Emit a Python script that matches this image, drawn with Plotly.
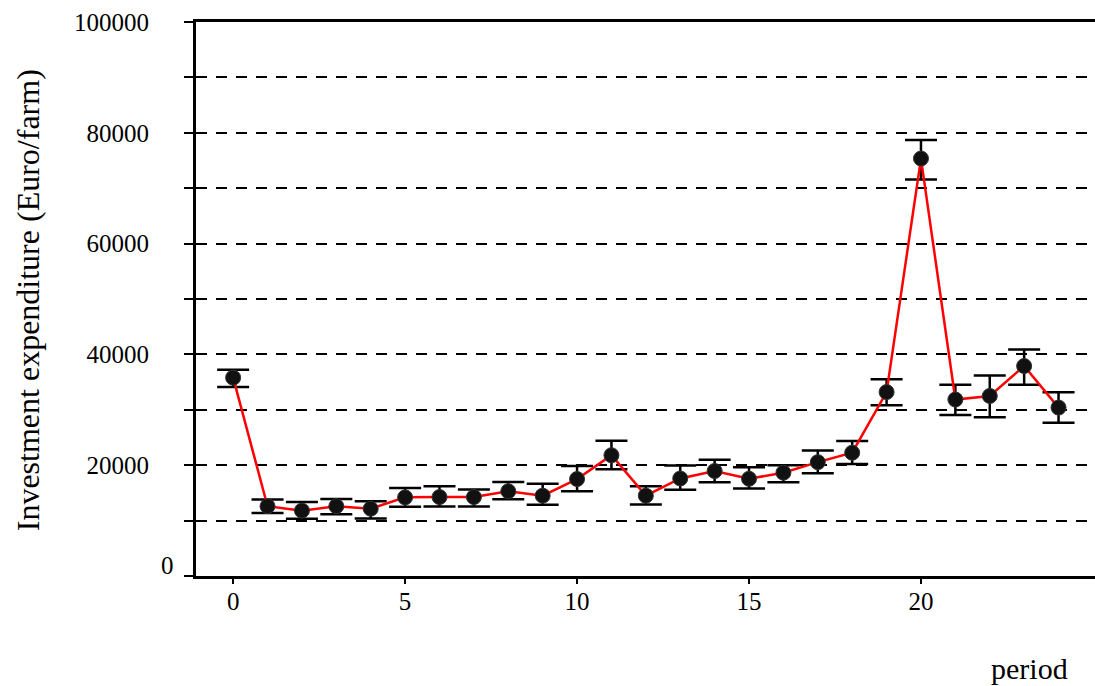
import plotly.graph_objects as go

periods = list(range(25))
investment = [35800, 12600, 11800, 12600, 12150, 14200, 14250, 14250, 15300, 14500,
              17500, 21800, 14500, 17600, 18950, 17550, 18650, 20550, 22250, 33200,
              75350, 31850, 32500, 37900, 30400]
error_plus = [1450, 1200, 1550, 1300, 1350, 1700, 1950, 1350, 1650, 2150,
              2350, 2600, 1700, 2350, 2050, 2100, 1350, 2100, 2100, 2300,
              3350, 2650, 3700, 3000, 2750]
error_minus = [1700, 1250, 1450, 1450, 1750, 1700, 1700, 1700, 1450, 1650,
               2200, 2550, 1600, 2050, 2050, 1750, 1750, 2000, 2050, 2400,
               3800, 2800, 3850, 3400, 2750]

y_tickvals = [0, 10000, 20000, 30000, 40000, 50000, 60000, 70000, 80000, 90000, 100000]
y_ticktext = ["", "", "20000", "", "40000", "", "60000", "", "80000", "", "100000"]
zero_label = "0"
x_tickvals = [0, 5, 10, 15, 20]

FONT = "Liberation Serif"

fig = go.Figure()
fig.add_trace(go.Scatter(
    x=periods, y=investment,
    mode="lines+markers",
    line=dict(color="red", width=2.5),
    marker=dict(symbol="circle", size=15, color="#111111",
                line=dict(color="#333333", width=1)),
    error_y=dict(type="data", symmetric=False, array=error_plus, arrayminus=error_minus,
                 color="black", thickness=2.5, width=16),
    showlegend=False,
))

fig.update_layout(
    width=1095, height=686,
    margin=dict(l=196, r=0, t=22, b=110),
    plot_bgcolor="white", paper_bgcolor="white",
    font=dict(family=FONT, size=25, color="black"),
    xaxis=dict(
        range=[-1.08, 25.06],
        tickvals=x_tickvals,
        ticks="outside", ticklen=5, tickwidth=2, tickcolor="black",
        showline=True, linecolor="black", linewidth=3, mirror=True,
        showgrid=False, zeroline=False,
        ticklabelstandoff=-4,
        tickfont=dict(family=FONT, size=25, color="black"),
    ),
    yaxis=dict(
        range=[0, 100000],
        tickvals=y_tickvals, ticktext=y_ticktext,
        ticks="outside", ticklen=9, tickwidth=2, tickcolor="black",
        showline=True, linecolor="black", linewidth=3,
        showgrid=True, gridcolor="black", gridwidth=2, griddash="11px,9px",
        zeroline=False,
        ticklabelstandoff=30,
        tickfont=dict(family=FONT, size=25, color="black"),
    ),
    annotations=[
        dict(text=zero_label, xref="paper", yref="paper",
             x=(176 - 196) / 899, y=(575.5 - 565) / 553.5,
             xanchor="right", yanchor="middle", showarrow=False,
             font=dict(family=FONT, size=25, color="black")),
        dict(text="Investment expenditure (Euro/farm)", xref="paper", yref="paper",
             x=(28 - 196) / 899, y=(575.5 - 300) / 553.5, xanchor="center", yanchor="middle",
             textangle=-90, showarrow=False,
             font=dict(family=FONT, size=32, color="black")),
        dict(text="period", xref="paper", yref="paper",
             x=(1029 - 196) / 899, y=(575.5 - 668) / 553.5,
             xanchor="center", yanchor="middle", showarrow=False,
             font=dict(family=FONT, size=30, color="black")),
    ],
)

fig.write_html(
    "out.html",
    config={"displayModeBar": False},
    post_script="document.body.style.margin='0';document.body.style.overflow='hidden';",
)
